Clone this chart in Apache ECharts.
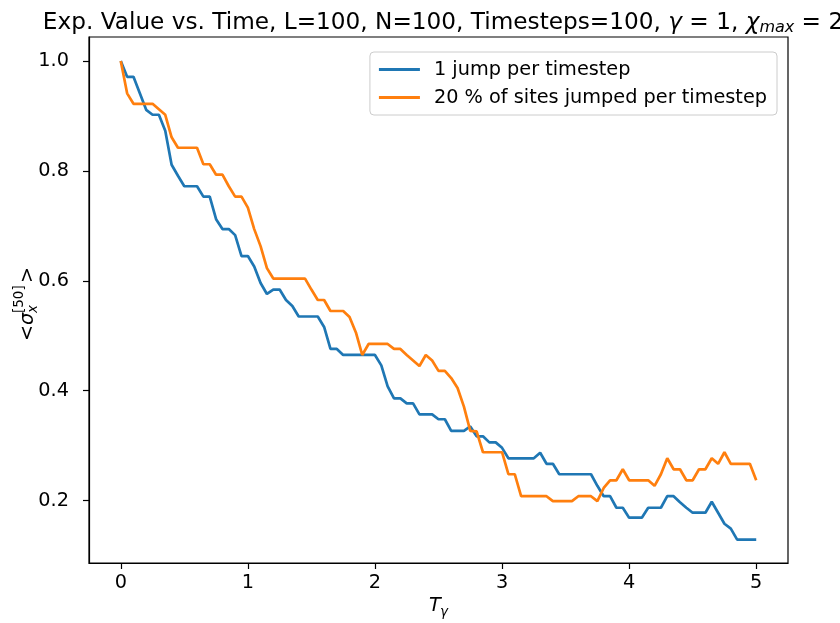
<!DOCTYPE html>
<html>
<head>
<meta charset="utf-8">
<script src="https://cdn.jsdelivr.net/npm/echarts@6/dist/echarts.min.js"></script>
<style>
  html, body { margin: 0; padding: 0; background: #fff; }
  #chart { width: 840px; height: 623px; }
</style>
</head>
<body>
<div id="chart"></div>
<script>
// Time grid: 100 timesteps of 0.05 from T=0 to T=5
const dt = 0.05;
const nSteps = 100;

// <sigma_x> at site 50, one jump per timestep
const oneJump = [
  1.000, 0.971, 0.971, 0.941, 0.911, 0.902, 0.902, 0.873, 0.811, 0.791,
  0.772, 0.772, 0.772, 0.753, 0.753, 0.712, 0.694, 0.694, 0.683, 0.645,
  0.645, 0.626, 0.596, 0.576, 0.584, 0.584, 0.565, 0.554, 0.535, 0.535,
  0.535, 0.535, 0.516, 0.476, 0.476, 0.465, 0.465, 0.465, 0.465, 0.465,
  0.465, 0.446, 0.408, 0.386, 0.386, 0.377, 0.377, 0.357, 0.357, 0.357,
  0.348, 0.348, 0.327, 0.327, 0.327, 0.335, 0.317, 0.317, 0.306, 0.306,
  0.296, 0.277, 0.277, 0.277, 0.277, 0.277, 0.287, 0.267, 0.267, 0.248,
  0.248, 0.248, 0.248, 0.248, 0.248, 0.227, 0.208, 0.208, 0.187, 0.187,
  0.169, 0.169, 0.169, 0.187, 0.187, 0.187, 0.208, 0.208, 0.197, 0.187,
  0.178, 0.178, 0.178, 0.198, 0.178, 0.158, 0.149, 0.129, 0.129, 0.129,
  0.129
];

// <sigma_x> at site 50, 20 % of sites jumped per timestep
const twentyPct = [
  1.000, 0.941, 0.922, 0.922, 0.922, 0.922, 0.912, 0.902, 0.861, 0.842,
  0.842, 0.842, 0.842, 0.812, 0.812, 0.793, 0.793, 0.772, 0.753, 0.753,
  0.733, 0.694, 0.663, 0.623, 0.604, 0.604, 0.604, 0.604, 0.604, 0.604,
  0.584, 0.565, 0.565, 0.545, 0.545, 0.545, 0.534, 0.506, 0.465, 0.485,
  0.485, 0.485, 0.485, 0.476, 0.476, 0.465, 0.455, 0.445, 0.465, 0.455,
  0.436, 0.436, 0.423, 0.405, 0.371, 0.327, 0.326, 0.288, 0.288, 0.288,
  0.288, 0.248, 0.248, 0.208, 0.208, 0.208, 0.208, 0.208, 0.199, 0.199,
  0.199, 0.199, 0.208, 0.208, 0.208, 0.199, 0.223, 0.237, 0.237, 0.257,
  0.237, 0.237, 0.237, 0.237, 0.227, 0.248, 0.277, 0.257, 0.257, 0.237,
  0.237, 0.257, 0.257, 0.277, 0.267, 0.288, 0.267, 0.267, 0.267, 0.267,
  0.237
];

const seriesNames = ['1 jump per timestep', '20 % of sites jumped per timestep'];
const xTicks = [0, 1, 2, 3, 4, 5];
const yTicks = [0.2, 0.4, 0.6, 0.8, 1.0];

const times = [];
for (let i = 0; i <= nSteps; i++) times.push(+(i * dt).toFixed(2));
const pairs = vals => vals.map((v, i) => [times[i], v]);

const FONT = 'DejaVu Sans';
const FS = 19.3;       // tick / legend / axis-label size
const FS_TITLE = 23.2; // title size
const chart = echarts.init(document.getElementById('chart'), null, { renderer: 'canvas' });

chart.setOption({
  animation: false,
  backgroundColor: '#ffffff',
  textStyle: { fontFamily: FONT, color: '#000' },
  title: {
    left: 438,
    top: 5,
    textAlign: 'center',
    text: '{a|Exp. Value vs. Time, L=100, N=100, Timesteps=100, }{i|γ}{a| = 1, }{i|χ}{s|max}{a| = 2}',
    textStyle: {
      fontWeight: 'normal',
      rich: {
        a: { fontFamily: FONT, fontSize: FS_TITLE, fontWeight: 'normal', color: '#000' },
        i: { fontFamily: FONT, fontSize: FS_TITLE, fontWeight: 'normal', fontStyle: 'italic', color: '#000' },
        s: { fontFamily: FONT, fontSize: 16, fontWeight: 'normal', fontStyle: 'italic', color: '#000', padding: [10, 0, 0, 0] }
      }
    }
  },
  legend: {
    orient: 'vertical',
    right: 63,
    top: 52,
    data: seriesNames,
    icon: 'rect',
    backgroundColor: '#fff',
    borderColor: '#cccccc',
    borderWidth: 1,
    borderRadius: 4,
    padding: [8, 10, 8, 9],
    itemGap: 9,
    itemWidth: 41,
    itemHeight: 3,
    textStyle: { fontFamily: FONT, fontSize: FS, color: '#000', padding: [0, 0, 0, 9] }
  },
  grid: {
    left: 89, right: 52, top: 37, bottom: 60,
    show: true, borderColor: '#000', borderWidth: 1.2, backgroundColor: 'transparent'
  },
  xAxis: {
    type: 'value',
    min: -0.25, max: 5.25,
    axisLine: { show: true, onZero: false, lineStyle: { color: '#000', width: 1.2 } },
    axisTick: { show: true, length: 6, inside: false, customValues: xTicks, lineStyle: { color: '#000', width: 1.2 } },
    axisLabel: { customValues: xTicks, fontFamily: FONT, fontSize: FS, color: '#000', margin: 10 },
    splitLine: { show: false }
  },
  yAxis: {
    type: 'value',
    min: 0.0865, max: 1.0435,
    axisLine: { show: true, onZero: false, lineStyle: { color: '#000', width: 1.2 } },
    axisTick: { show: true, length: 6, inside: false, customValues: yTicks, lineStyle: { color: '#000', width: 1.2 } },
    axisLabel: { customValues: yTicks, fontFamily: FONT, fontSize: FS, color: '#000', margin: 20,
      formatter: v => v.toFixed(1) },
    splitLine: { show: false }
  },
  series: [
    {
      name: seriesNames[0], type: 'line', data: pairs(oneJump),
      symbol: 'none', color: '#1f77b4',
      lineStyle: { color: '#1f77b4', width: 2.7 }, z: 3
    },
    {
      name: seriesNames[1], type: 'line', data: pairs(twentyPct),
      symbol: 'none', color: '#ff7f0e',
      lineStyle: { color: '#ff7f0e', width: 2.7 }, z: 4
    }
  ],
  graphic: [
    {
      // y-axis label  <σ_x^[50]>, reading bottom to top
      type: 'group', x: 33, y: 300, rotation: Math.PI / 2,
      children: [
        { type: 'text', style: { text: '<', x: -41, y: 4, font: '19.3px "DejaVu Sans"', fill: '#000', verticalAlign: 'bottom' } },
        { type: 'text', style: { text: 'σ', x: -25, y: 4, font: 'italic 19.3px "DejaVu Sans"', fill: '#000', verticalAlign: 'bottom' } },
        { type: 'text', style: { text: 'x', x: -13, y: 7, font: 'italic 13.5px "DejaVu Sans"', fill: '#000', verticalAlign: 'bottom' } },
        { type: 'text', style: { text: '[50]', x: -13, y: -7, font: '13.5px "DejaVu Sans"', fill: '#000', verticalAlign: 'bottom' } },
        { type: 'text', style: { text: '>', x: 17, y: 4, font: '19.3px "DejaVu Sans"', fill: '#000', verticalAlign: 'bottom' } }
      ]
    },
    {
      // x-axis label  T_γ
      type: 'group', x: 438, y: 611,
      children: [
        { type: 'text', style: { text: 'T', x: -9, y: 4, font: 'italic 19.3px "DejaVu Sans"', fill: '#000', verticalAlign: 'bottom' } },
        { type: 'text', style: { text: 'γ', x: 2, y: 8, font: 'italic 13.5px "DejaVu Sans"', fill: '#000', verticalAlign: 'bottom' } }
      ]
    }
  ]
});
</script>
</body>
</html>
